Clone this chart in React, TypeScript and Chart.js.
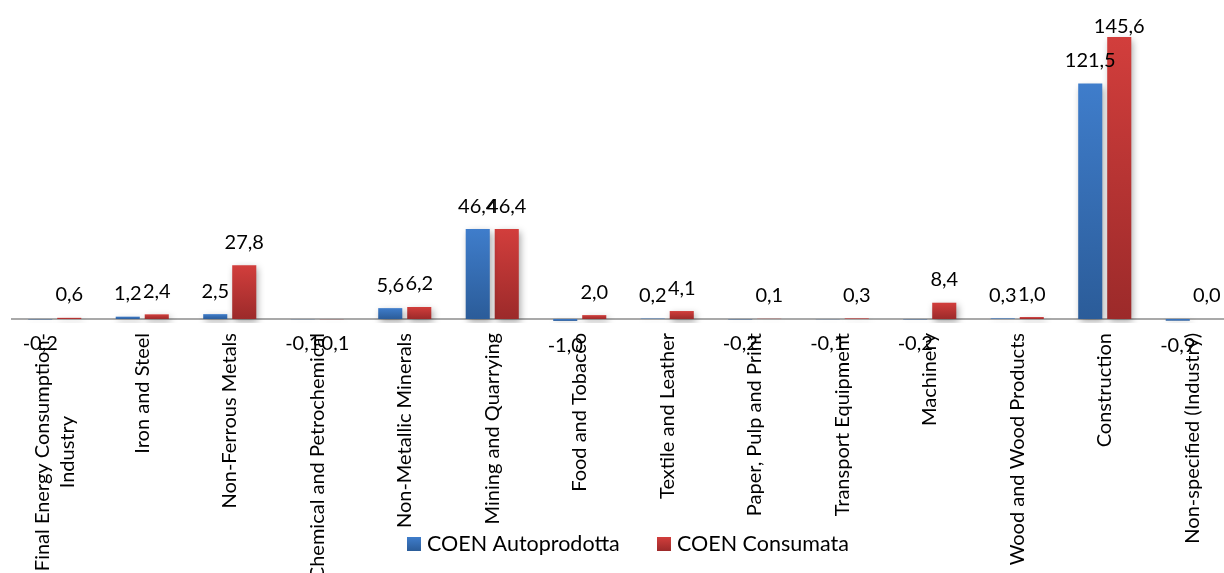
import React, { useEffect, useRef } from "react";
import { Chart, registerables } from "chart.js";

Chart.register(...registerables);

const categories: (string | string[])[] = [
  ["Final Energy Consumption-", "Industry"],
  "Iron and Steel",
  "Non-Ferrous Metals",
  "Chemical and Petrochemical",
  "Non-Metallic Minerals",
  "Mining and Quarrying",
  "Food and Tobacco",
  "Textile and Leather",
  "Paper, Pulp and Print",
  "Transport Equipment",
  "Machinery",
  "Wood and Wood Products",
  "Construction",
  "Non-specified (Industry)",
];

const autoprodotta = [-0.2, 1.2, 2.5, -0.1, 5.6, 46.4, -1.0, 0.2, -0.2, -0.1, -0.2, 0.3, 121.5, -0.9];
const consumata = [0.6, 2.4, 27.8, -0.1, 6.2, 46.4, 2.0, 4.1, 0.1, 0.3, 8.4, 1.0, 145.6, 0.0];

const seriesNames = ["COEN Autoprodotta", "COEN Consumata"];
const FONT = "Lato, 'Open Sans', sans-serif";

const blueTop = "#3F7DCB";
const blueBottom = "#2B5C99";
const redTop = "#D23E3C";
const redBottom = "#9C2A2A";

function makeFill(top: string, bottom: string) {
  return (ctx: any) => {
    const chart = ctx.chart;
    const area = chart.chartArea;
    if (!area || ctx.raw === undefined) return top;
    const y = chart.scales.y;
    const y1 = y.getPixelForValue(ctx.raw);
    const y0 = y.getPixelForValue(0);
    const a = Math.min(y0, y1);
    const b = Math.max(y0, y1) + 0.01;
    const g = chart.ctx.createLinearGradient(0, a, 0, b);
    g.addColorStop(0, top);
    g.addColorStop(1, bottom);
    return g;
  };
}

const fmt = (v: number) => v.toFixed(1).replace(".", ",");

const shadowPlugin = {
  id: "barShadow",
  beforeDatasetsDraw(chart: any) {
    const c = chart.ctx;
    c.save();
    c.shadowColor = "rgba(0,0,0,0.35)";
    c.shadowBlur = 7;
    c.shadowOffsetX = 2;
    c.shadowOffsetY = 3;
  },
  afterDatasetsDraw(chart: any) {
    chart.ctx.restore();
  },
};

const overlayPlugin = {
  id: "overlay",
  beforeDatasetsDraw(chart: any) {
    const c = chart.ctx;
    const y0 = chart.scales.y.getPixelForValue(0);
    c.save();
    c.strokeStyle = "#8C8C8C";
    c.lineWidth = 1.5;
    c.beginPath();
    c.moveTo(chart.chartArea.left, y0);
    c.lineTo(chart.chartArea.right, y0);
    c.stroke();
    c.restore();
  },
  afterDraw(chart: any) {
    const c = chart.ctx;
    c.save();
    c.fillStyle = "#000";
    // category labels, rotated, block centered on longest line
    c.font = `20px ${FONT}`;
    const xs = chart.scales.x;
    const topY = chart.chartArea.bottom + 10;
    const lh = 25;
    (chart.data.labels as any[]).forEach((lab: any, i: number) => {
      const lines: string[] = Array.isArray(lab) ? lab : [lab];
      const w = Math.max(...lines.map((l) => c.measureText(l).width));
      const x = xs.getPixelForTick(i);
      c.save();
      c.translate(x, topY);
      c.rotate(-Math.PI / 2);
      c.textAlign = "center";
      c.textBaseline = "middle";
      lines.forEach((l, k) => {
        c.fillText(l, -w / 2, (k - (lines.length - 1) / 2) * lh);
      });
      c.restore();
    });
    // data labels
    c.font = `20px ${FONT}`;
    c.textAlign = "center";
    c.textBaseline = "alphabetic";
    chart.data.datasets.forEach((ds: any, di: number) => {
      const meta = chart.getDatasetMeta(di);
      meta.data.forEach((el: any, i: number) => {
        const v = ds.data[i];
        if (v >= 0) {
          c.fillText(fmt(v), el.x, Math.max(el.y - 16.5, 33));
        } else {
          c.fillText(fmt(v), el.x, el.y + 31);
        }
      });
    });
    // legend
    c.font = `21.5px ${FONT}`;
    const items = [
      { x: 407, name: seriesNames[0], top: blueTop, bottom: blueBottom },
      { x: 657, name: seriesNames[1], top: redTop, bottom: redBottom },
    ];
    const sy = 537;
    items.forEach((it) => {
      const g = c.createLinearGradient(0, sy, 0, sy + 14);
      g.addColorStop(0, it.top);
      g.addColorStop(1, it.bottom);
      c.fillStyle = g;
      c.fillRect(it.x, sy, 14, 14);
      c.fillStyle = "#000";
      c.textAlign = "left";
      c.textBaseline = "alphabetic";
      c.fillText(it.name, it.x + 20, 551);
    });
    c.restore();
  },
};

export default function App() {
  const ref = useRef<HTMLCanvasElement>(null);
  useEffect(() => {
    if (!ref.current) return;
    const chart = new Chart(ref.current, {
      type: "bar",
      data: {
        labels: categories,
        datasets: [
          {
            label: seriesNames[0],
            data: autoprodotta,
            backgroundColor: makeFill(blueTop, blueBottom),
            barPercentage: 0.83,
            categoryPercentage: 0.663,
          },
          {
            label: seriesNames[1],
            data: consumata,
            backgroundColor: makeFill(redTop, redBottom),
            barPercentage: 0.83,
            categoryPercentage: 0.663,
          },
        ],
      },
      options: {
        animation: false,
        responsive: true,
        maintainAspectRatio: false,
        layout: { padding: { left: 11, right: 4, top: 9, bottom: 0 } },
        plugins: {
          legend: { display: false },
          tooltip: { enabled: false },
        },
        scales: {
          x: {
            grid: { display: false },
            border: { display: false },
            ticks: { display: false, autoSkip: false },
            afterFit: (s: any) => {
              s.height = 250;
            },
          },
          y: {
            display: false,
            min: -2.07,
            max: 160,
          },
        },
      },
      plugins: [overlayPlugin, shadowPlugin],
    });
    return () => chart.destroy();
  }, []);
  return (
    <div style={{ position: "fixed", left: 0, top: 0, width: 1240, height: 573, background: "#fff" }}>
      <canvas ref={ref} />
    </div>
  );
}
